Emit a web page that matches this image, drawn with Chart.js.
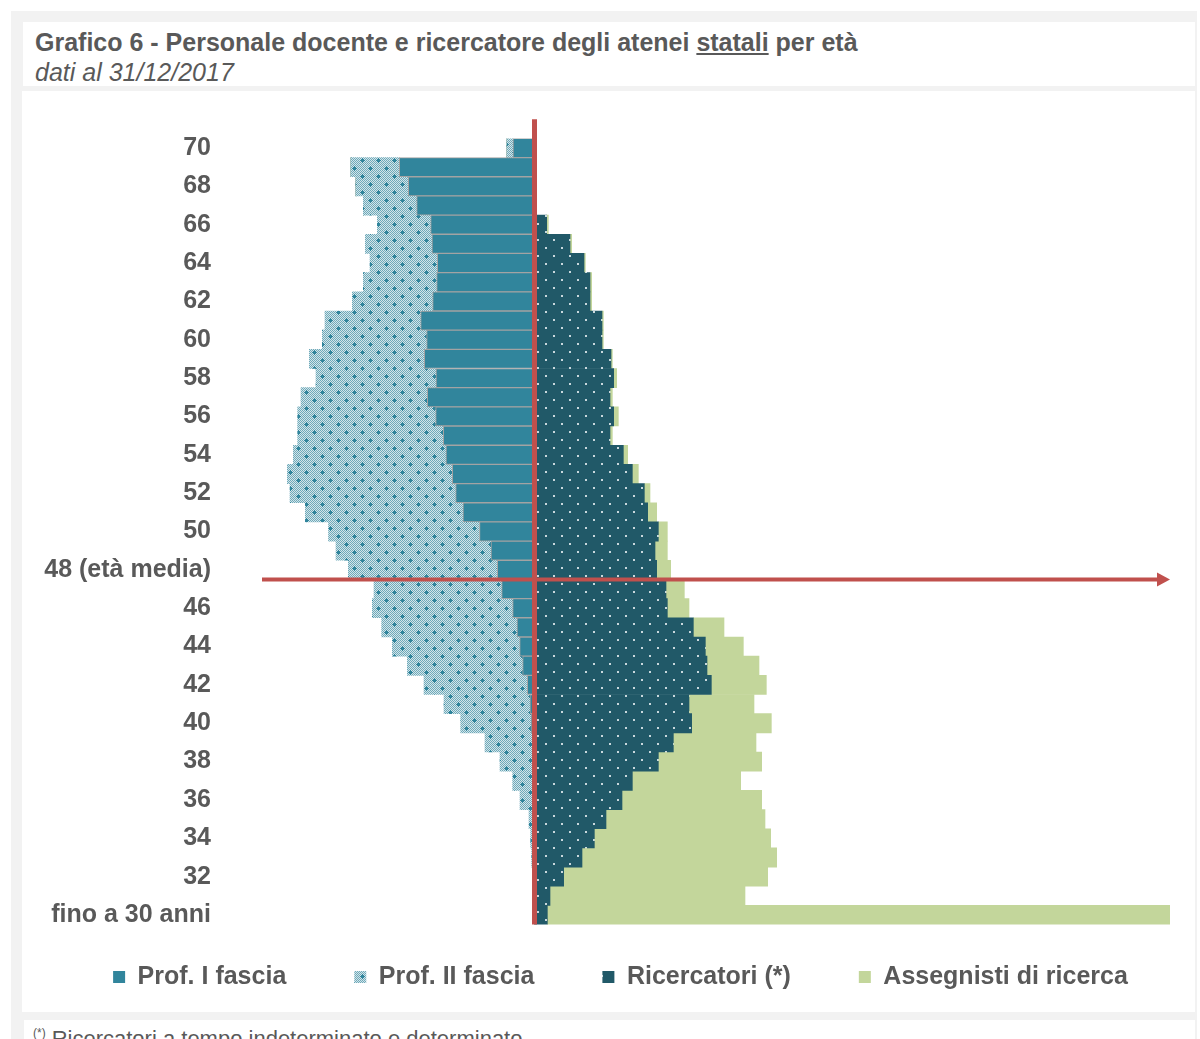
<!DOCTYPE html>
<html lang="it">
<head>
<meta charset="utf-8">
<title>Grafico 6 - Personale docente e ricercatore degli atenei statali per età</title>
<script src="https://cdn.jsdelivr.net/npm/chart.js@4.4.1/dist/chart.umd.min.js"></script>
<style>
  html, body { margin: 0; padding: 0; background: #fff; width: 1200px; height: 1039px; overflow: hidden;
               font-family: 'Liberation Sans', Arial, sans-serif; }
  .frame { position: absolute; left: 11px; top: 11px; width: 1186px; height: 1040px; background: #f2f2f2; }
  .panel { position: absolute; background: #fff; }
  #head { left: 23px; top: 22px; width: 1172px; height: 64px; }
  #plot { left: 22px; top: 91px; width: 1173px; height: 921px; }
  #note { left: 24px; top: 1020px; width: 1171px; height: 30px; }
  .title { position: absolute; left: 35px; top: 28px; font-size: 25px; line-height: 29px; font-weight: bold;
           color: #595959; white-space: nowrap; }
  .subtitle { position: absolute; left: 35px; top: 58px; font-size: 25px; line-height: 29px; font-style: italic;
              color: #595959; white-space: nowrap; }
  .footnote { position: absolute; left: 33px; top: 1021px; font-size: 22px; line-height: 25px; color: #595959;
              white-space: nowrap; }
  .footnote sup { font-size: 12px; vertical-align: 9px; margin-right: 6px; }
  #chart { position: absolute; left: 22px; top: 92px; }
</style>
</head>
<body>
<div class="frame"></div>
<div class="panel" id="head"></div>
<div class="panel" id="plot"></div>
<div class="panel" id="note"></div>
<div class="title">Grafico 6 - Personale docente e ricercatore degli atenei <u>statali</u> per età</div>
<div class="subtitle">dati al 31/12/2017</div>
<div class="footnote"><sup>(*)</sup>Ricercatori a tempo indeterminato e determinato</div>
<canvas id="chart" width="1173" height="920"></canvas>

<script>
// Age classes, from the oldest (top row) to the youngest (bottom row)
const ages = ['70', '69', '68', '67', '66', '65', '64', '63', '62', '61',
              '60', '59', '58', '57', '56', '55', '54', '53', '52', '51',
              '50', '49', '48', '47', '46', '45', '44', '43', '42', '41',
              '40', '39', '38', '37', '36', '35', '34', '33', '32', '31',
              'fino a 30 anni'];

// Labels shown on the age axis (every other age)
const tickLabels = ['70', '', '68', '', '66', '', '64', '', '62', '',
                    '60', '', '58', '', '56', '', '54', '', '52', '',
                    '50', '', '48 (età media)', '', '46', '', '44', '', '42', '',
                    '40', '', '38', '', '36', '', '34', '', '32', '',
                    'fino a 30 anni'];

// Mean age: the arrow runs along the lower edge of this row
const mediaLabel = '48';

// Headcounts per age
const profPrimaFascia = [129, 811, 757, 707, 623, 615, 583, 587, 611, 683,
                         647, 661, 591, 643, 593, 547, 531, 493, 473, 429,
                         330, 261, 223, 197, 131, 105, 89, 71, 43, 27,
                         21, 12, 7, 5, 3, 2, 1, 0, 0, 0,
                         0];
const profSecondaFascia = [36, 290, 314, 320, 320, 400, 404, 440, 482, 574,
                           626, 690, 720, 758, 828, 874, 916, 990, 994, 946,
                           906, 930, 894, 766, 842, 812, 764, 692, 620, 516,
                           422, 285, 200, 126, 84, 31, 22, 17, 9, 3,
                           1];
const ricercatori = [0, 0, 0, 0, 73, 213, 297, 333, 333, 405,
                     405, 459, 475, 453, 475, 453, 533, 587, 659, 679,
                     743, 723, 733, 789, 797, 953, 1025, 1035, 1061, 927,
                     943, 833, 743, 587, 525, 429, 359, 285, 175, 93,
                     77];
const assegnisti = [0, 0, 0, 0, 10, 10, 8, 10, 10, 8,
                    8, 8, 18, 14, 28, 14, 26, 36, 34, 54,
                    54, 74, 84, 110, 130, 184, 228, 312, 330, 390,
                    478, 496, 620, 650, 838, 954, 1058, 1168, 1224, 1170,
                    3736];

const seriesNames = ['Prof. I fascia', 'Prof. II fascia', 'Ricercatori (*)', 'Assegnisti di ricerca'];

const TEXT = '#595959';
const RED = '#C0504D';
const LEGEND_FONT = 25;
const LEGEND_GAP = 68;

// Dotted checker fill for associate professors
function checkerPattern() {
  const c = document.createElement('canvas');
  c.width = 16; c.height = 16;
  const g = c.getContext('2d');
  for (let py = 0; py < 16; py++) {
    for (let px = 0; px < 16; px++) {
      g.fillStyle = (px + py) % 2 === 0 ? '#6fa9b9' : '#d2e5ea';
      g.fillRect(px, py, 1, 1);
    }
  }
  g.fillStyle = '#31859C';
  [[4, 4], [12, 12]].forEach(([cx, cy]) => {
    g.fillRect(cx - 2, cy, 5, 1);
    g.fillRect(cx, cy - 2, 1, 5);
    g.fillRect(cx - 1, cy - 1, 3, 3);
  });
  return g.createPattern(c, 'repeat');
}

// Dark fill with small light dots for researchers
function dotPattern() {
  const c = document.createElement('canvas');
  c.width = 16; c.height = 16;
  const g = c.getContext('2d');
  g.fillStyle = '#215968';
  g.fillRect(0, 0, 16, 16);
  g.fillStyle = '#c9d8dd';
  g.fillRect(3, 3, 2, 2);
  g.fillRect(11, 11, 2, 2);
  return g.createPattern(c, 'repeat');
}

// Red reference lines: the zero axis and the mean-age arrow
const guideLines = {
  id: 'guideLines',
  afterDatasetsDraw(chart) {
    const { ctx, chartArea, scales: { x, y } } = chart;
    const band = chartArea.height / ages.length;
    const x0 = x.getPixelForValue(0);
    const yMean = y.getPixelForValue(ages.indexOf(mediaLabel) + 0.5);
    ctx.save();
    ctx.strokeStyle = RED;
    ctx.fillStyle = RED;
    ctx.lineWidth = 4;
    ctx.beginPath();
    ctx.moveTo(chartArea.left, yMean);
    ctx.lineTo(chartArea.right - 10, yMean);
    ctx.stroke();
    ctx.beginPath();
    ctx.moveTo(chartArea.right, yMean);
    ctx.lineTo(chartArea.right - 13, yMean - 7);
    ctx.lineTo(chartArea.right - 13, yMean + 7);
    ctx.closePath();
    ctx.fill();
    ctx.lineWidth = 5;
    ctx.beginPath();
    ctx.moveTo(x0, chartArea.top - band);
    ctx.lineTo(x0, chartArea.bottom);
    ctx.stroke();
    ctx.restore();
  }
};

// Keeps the four legend entries on one row, near the bottom of the canvas,
// centred under the plot
const legendRow = {
  id: 'legendRow',
  afterLayout(chart) {
    const lg = chart.legend;
    if (!lg) return;
    lg.maxWidth = 4000;
    lg.fit();
    const centre = (49 + chart.chartArea.right) / 2;
    lg.top = chart.height - 35 - LEGEND_FONT / 2 - LEGEND_GAP;
    lg.bottom = chart.height;
    lg.left = centre - 620;
    lg.right = centre + 620;
    lg.width = lg.right - lg.left;
    lg.height = lg.bottom - lg.top;
  }
};

Chart.defaults.font.family = "'Liberation Sans', Arial, sans-serif";
Chart.defaults.color = TEXT;

const ctx = document.getElementById('chart').getContext('2d');

new Chart(ctx, {
  type: 'bar',
  data: {
    labels: ages,
    datasets: [
      {
        label: seriesNames[0],
        data: profPrimaFascia.map(v => -v),
        backgroundColor: '#31859C',
        borderColor: '#a3a3a3',
        borderWidth: 1
      },
      {
        label: seriesNames[1],
        data: profSecondaFascia.map(v => -v),
        backgroundColor: checkerPattern(),
        borderWidth: 0
      },
      {
        label: seriesNames[2],
        data: ricercatori,
        backgroundColor: dotPattern(),
        borderWidth: 0
      },
      {
        label: seriesNames[3],
        data: assegnisti,
        backgroundColor: '#C3D69B',
        borderWidth: 0
      }
    ]
  },
  options: {
    indexAxis: 'y',
    responsive: false,
    animation: false,
    events: [],
    datasets: {
      bar: { barPercentage: 1, categoryPercentage: 1 }
    },
    layout: {
      padding: { top: 46.4, right: 25, bottom: 27.4, left: 10 }
    },
    scales: {
      x: {
        display: false,
        stacked: true,
        min: -1635,
        max: 3813
      },
      y: {
        stacked: true,
        grid: { display: false, drawTicks: false },
        border: { display: false },
        ticks: {
          autoSkip: false,
          padding: 51,
          color: TEXT,
          font: { size: 25, weight: 'bold' },
          callback: (value, index) => tickLabels[index]
        },
        afterFit(scale) {
          scale.width = 230;
          scale.paddingTop = 0;
          scale.paddingBottom = 0;
        }
      }
    },
    plugins: {
      tooltip: { enabled: false },
      legend: {
        position: 'bottom',
        maxHeight: 60,
        labels: {
          boxWidth: 12,
          boxHeight: 12,
          padding: LEGEND_GAP,
          color: TEXT,
          font: { size: LEGEND_FONT, weight: 'bold' },
          generateLabels(chart) {
            const items = Chart.defaults.plugins.legend.labels.generateLabels(chart);
            items.forEach(it => { it.lineWidth = 0; it.strokeStyle = 'rgba(0,0,0,0)'; });
            return items;
          }
        }
      }
    }
  },
  plugins: [guideLines, legendRow]
});
</script>
</body>
</html>
